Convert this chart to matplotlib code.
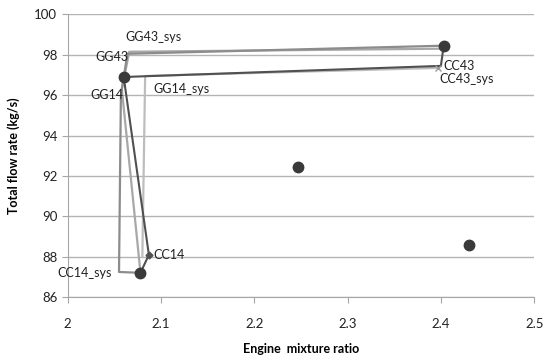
import numpy as np
import matplotlib
matplotlib.use('Agg')
import matplotlib.pyplot as plt

plt.rcParams['font.family'] = ['Lato', 'DejaVu Sans']

# operating points (engine mixture ratio, total flow rate kg/s)
dot_x = [2.060, 2.403, 2.078, 2.247, 2.430]
dot_y = [96.90, 98.45, 87.21, 92.43, 88.57]

# nominal cycle path (dark)
nom_x = [2.078, 2.087, 2.060, 2.400, 2.403]
nom_y = [87.21, 88.10, 96.90, 97.45, 98.45]

# system cycle paths (greys)
sys1_x = [2.403, 2.064, 2.057, 2.055, 2.078]
sys1_y = [98.45, 98.05, 96.00, 87.25, 87.21]
sys2_x = [2.400, 2.066, 2.058, 2.078]
sys2_y = [98.30, 98.15, 96.30, 87.21]
sys3_x = [2.080, 2.083, 2.397, 2.400]
sys3_y = [88.00, 96.95, 97.35, 97.45]

point_names = ['GG43_sys', 'GG43', 'GG14', 'GG14_sys', 'CC43', 'CC43_sys', 'CC14', 'CC14_sys']
name_x = [2.0914, 2.0475, 2.0424, 2.1214, 2.4200, 2.4280, 2.1086, 2.0185]
name_y = [98.88, 97.91, 96.01, 96.29, 97.44, 96.79, 88.09, 87.19]

fig = plt.figure(figsize=(5.55, 3.59), dpi=100)
ax = fig.add_axes([0.122, 0.172, 0.8405, 0.788])

ax.plot(sys3_x, sys3_y, color='#bdbdbd', lw=1.6, zorder=2)
ax.plot(sys2_x, sys2_y, color='#a8a8a8', lw=1.6, zorder=2)
ax.plot(sys1_x, sys1_y, color='#8c8c8c', lw=1.6, zorder=3)
ax.plot(nom_x, nom_y, color='#505050', lw=1.5, zorder=4)
ax.plot([nom_x[1]], [nom_y[1]], marker='D', ms=3.5, color='#505050', zorder=5)
ax.plot([sys3_x[2]], [sys3_y[2]], marker='x', ms=4, color='#9a9a9a', zorder=5)
ax.plot(dot_x, dot_y, 'o', ms=7.5, color='#3a3a3a', zorder=6, lw=0)

for name, x, y in zip(point_names, name_x, name_y):
    ax.text(x, y, name, ha='center', va='center', fontsize=9, color='#222222', zorder=7)

ax.set_xlim(2, 2.5)
ax.set_ylim(86, 100)
ax.set_xticks(np.arange(2, 2.51, 0.1))
ax.set_xticklabels(['2', '2.1', '2.2', '2.3', '2.4', '2.5'])
ax.set_yticks(np.arange(86, 101, 2))
ax.yaxis.grid(True, color='#b4b4b4', lw=1)
ax.set_axisbelow(True)
for s in ['top', 'right']:
    ax.spines[s].set_visible(False)
for s in ['left', 'bottom']:
    ax.spines[s].set_color('#a6a6a6')
ax.tick_params(axis='both', colors='#a6a6a6', labelcolor='#222222', labelsize=9.5, length=4)
ax.tick_params(axis='x', pad=11)
ax.set_xlabel('Engine  mixture ratio', fontsize=9, fontweight='bold', labelpad=9)
ax.set_ylabel('Total flow rate (kg/s)', fontsize=9, fontweight='bold', labelpad=10)

plt.savefig('out.png', dpi=100)
